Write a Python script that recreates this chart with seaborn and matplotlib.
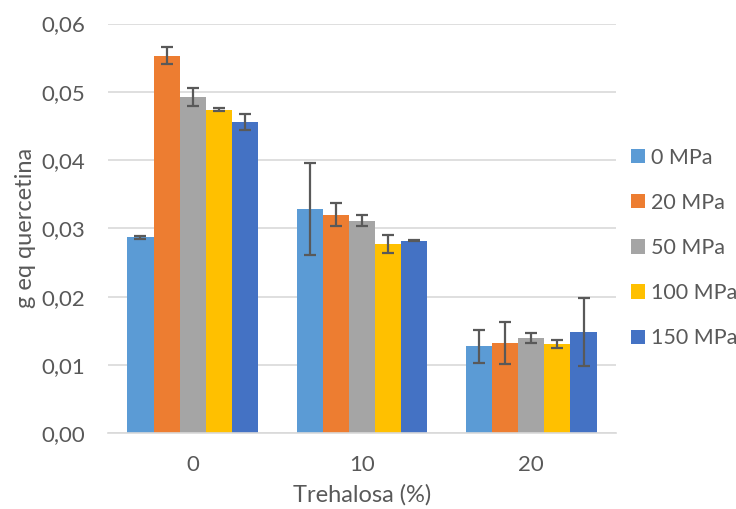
import matplotlib
matplotlib.use("Agg")
import matplotlib.pyplot as plt
import numpy as np
import pandas as pd
import seaborn as sns

# Data
trehalose = ["0", "10", "20"]
pressures = ["0 MPa", "20 MPa", "50 MPa", "100 MPa", "150 MPa"]
colors = ["#5B9BD5", "#ED7D31", "#A5A5A5", "#FFC000", "#4472C4"]

mean_0mpa = [0.0287, 0.0328, 0.0127]
mean_20mpa = [0.0553, 0.0320, 0.0132]
mean_50mpa = [0.0492, 0.0311, 0.0139]
mean_100mpa = [0.0474, 0.0277, 0.0130]
mean_150mpa = [0.0456, 0.0282, 0.0148]

err_0mpa = [0.0002, 0.0067, 0.0024]
err_20mpa = [0.0012, 0.0017, 0.0031]
err_50mpa = [0.00135, 0.0008, 0.0007]
err_100mpa = [0.00025, 0.0013, 0.0006]
err_150mpa = [0.00115, 0.0001, 0.0050]

means = [mean_0mpa, mean_20mpa, mean_50mpa, mean_100mpa, mean_150mpa]
errs = [err_0mpa, err_20mpa, err_50mpa, err_100mpa, err_150mpa]

rows = []
for p, m, e in zip(pressures, means, errs):
    for t, v, s in zip(trehalose, m, e):
        rows.append({"Trehalosa": t, "Presion": p, "valor": v, "err": s})
df = pd.DataFrame(rows)

sns.set_theme(style="white")
plt.rcParams["font.family"] = ["Lato", "DejaVu Sans"]
text_color = "#595959"

fig = plt.figure(figsize=(7.36, 5.09), dpi=100)
ax = fig.add_axes([0.1467, 0.149, 0.6903, 0.8048])

sns.barplot(data=df, x="Trehalosa", y="valor", hue="Presion", order=trehalose,
            hue_order=pressures, palette=colors, width=0.77, gap=0,
            errorbar=None, saturation=1, linewidth=0, ax=ax)

# error bars on top of the seaborn bars
for container, p in zip(ax.containers, pressures):
    sub = df[df["Presion"] == p].set_index("Trehalosa").loc[trehalose]
    xs = [b.get_x() + b.get_width() / 2 for b in container]
    ax.errorbar(xs, sub["valor"], yerr=sub["err"], fmt="none", ecolor="#595959",
                elinewidth=1.6, capsize=4.3, capthick=1.6, zorder=3)

ax.set_ylim(0, 0.06)
ax.set_xlim(-0.5, 2.5)
ticks = np.arange(0, 0.061, 0.01)
ax.set_yticks(ticks)
ax.set_yticklabels([f"{t:.2f}".replace(".", ",") for t in ticks])
ax.yaxis.grid(True, color="#D9D9D9", linewidth=1.2)
ax.set_axisbelow(True)
for s in ["top", "right", "left"]:
    ax.spines[s].set_visible(False)
ax.spines["bottom"].set_color("#D9D9D9")
ax.spines["bottom"].set_linewidth(1.2)
ax.tick_params(axis="y", length=0, pad=16.5, labelsize=16, labelcolor=text_color)
ax.tick_params(axis="x", length=0, pad=16, labelsize=16, labelcolor=text_color)

ax.set_xlabel("Trehalosa (%)", fontsize=17, color=text_color, labelpad=6)
ax.set_ylabel("g eq quercetina", fontsize=17, color=text_color, labelpad=4)

leg = ax.legend(loc="center left", bbox_to_anchor=(1.03, 0.452), frameon=False,
                fontsize=15.5, handlelength=0.65, handleheight=0.65, handletextpad=0.25,
                labelspacing=1.17, labelcolor=text_color, borderaxespad=0, borderpad=0)

fig.savefig("out.png", dpi=100)
